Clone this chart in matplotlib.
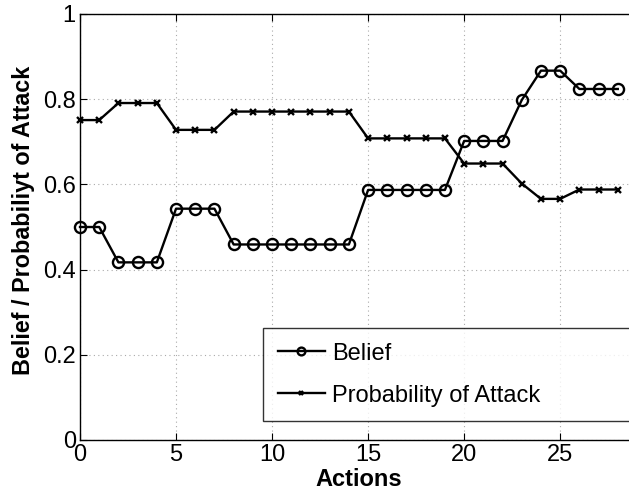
import matplotlib
matplotlib.use("Agg")
import matplotlib.pyplot as plt

# values
actions = list(range(29))
belief = [0.50, 0.50, 0.417, 0.417, 0.417, 0.543, 0.543, 0.543,
          0.459, 0.459, 0.459, 0.459, 0.459, 0.459, 0.459,
          0.587, 0.587, 0.587, 0.587, 0.587,
          0.702, 0.702, 0.702, 0.798, 0.867, 0.867, 0.824, 0.824, 0.824]
attack = [0.751, 0.751, 0.791, 0.791, 0.791, 0.728, 0.728, 0.728,
          0.771, 0.771, 0.771, 0.771, 0.771, 0.771, 0.771,
          0.708, 0.708, 0.708, 0.708, 0.708,
          0.649, 0.649, 0.649, 0.602, 0.566, 0.566, 0.588, 0.588, 0.588]
xticks = [0, 5, 10, 15, 20, 25]
yticks = [0, 0.2, 0.4, 0.6, 0.8, 1]
ytick_labels = ['0', '0.2', '0.4', '0.6', '0.8', '1']

plt.rcParams['font.family'] = ['Liberation Sans', 'DejaVu Sans']

W, H = 629, 491
fig = plt.figure(figsize=(W / 100, H / 100), dpi=100)
# axes runs past the right edge of the picture, like the cropped original
ax = fig.add_axes([80 / W, (H - 440) / H, 557 / W, 426 / H])

ax.plot(actions, belief, color='black', lw=1.7, marker='o', ms=8,
        mfc='none', mew=1.7, label='Belief', clip_on=False)
ax.plot(actions, attack, color='black', lw=1.7, marker='x', ms=5,
        mew=1.7, label='Probability of Attack', clip_on=False)

ax.set_xlim(0, 29)
ax.set_ylim(0, 1)
ax.set_xticks(xticks)
ax.set_yticks(yticks)
ax.set_yticklabels(ytick_labels)
ax.grid(True, color='#aaaaaa', linestyle=(0, (1, 3)), lw=0.8)
ax.tick_params(direction='in', top=True, right=False, labelsize=17,
               length=5, width=0.8, pad=3)
for s in ax.spines.values():
    s.set_linewidth(1.0)
ax.spines['right'].set_visible(False)

ax.set_xlabel('Actions', fontsize=17, fontweight='bold', labelpad=1)
ax.set_ylabel('Belief / Probabiliyt of Attack', fontsize=16.8,
              fontweight='bold')
ax.yaxis.set_label_coords(-0.08, 0.515)

leg = ax.legend(loc='upper left',
                bbox_to_anchor=(263 / W, (H - 328) / H, 400 / W, 0),
                bbox_transform=fig.transFigure, mode='expand',
                fontsize=17, frameon=True, fancybox=False,
                edgecolor='black', handlelength=2.0, handletextpad=0.3,
                labelspacing=0.85, borderpad=0.62, borderaxespad=0,
                markerscale=0.7)
leg.get_frame().set_linewidth(1.0)

fig.savefig('out.png', dpi=100)
